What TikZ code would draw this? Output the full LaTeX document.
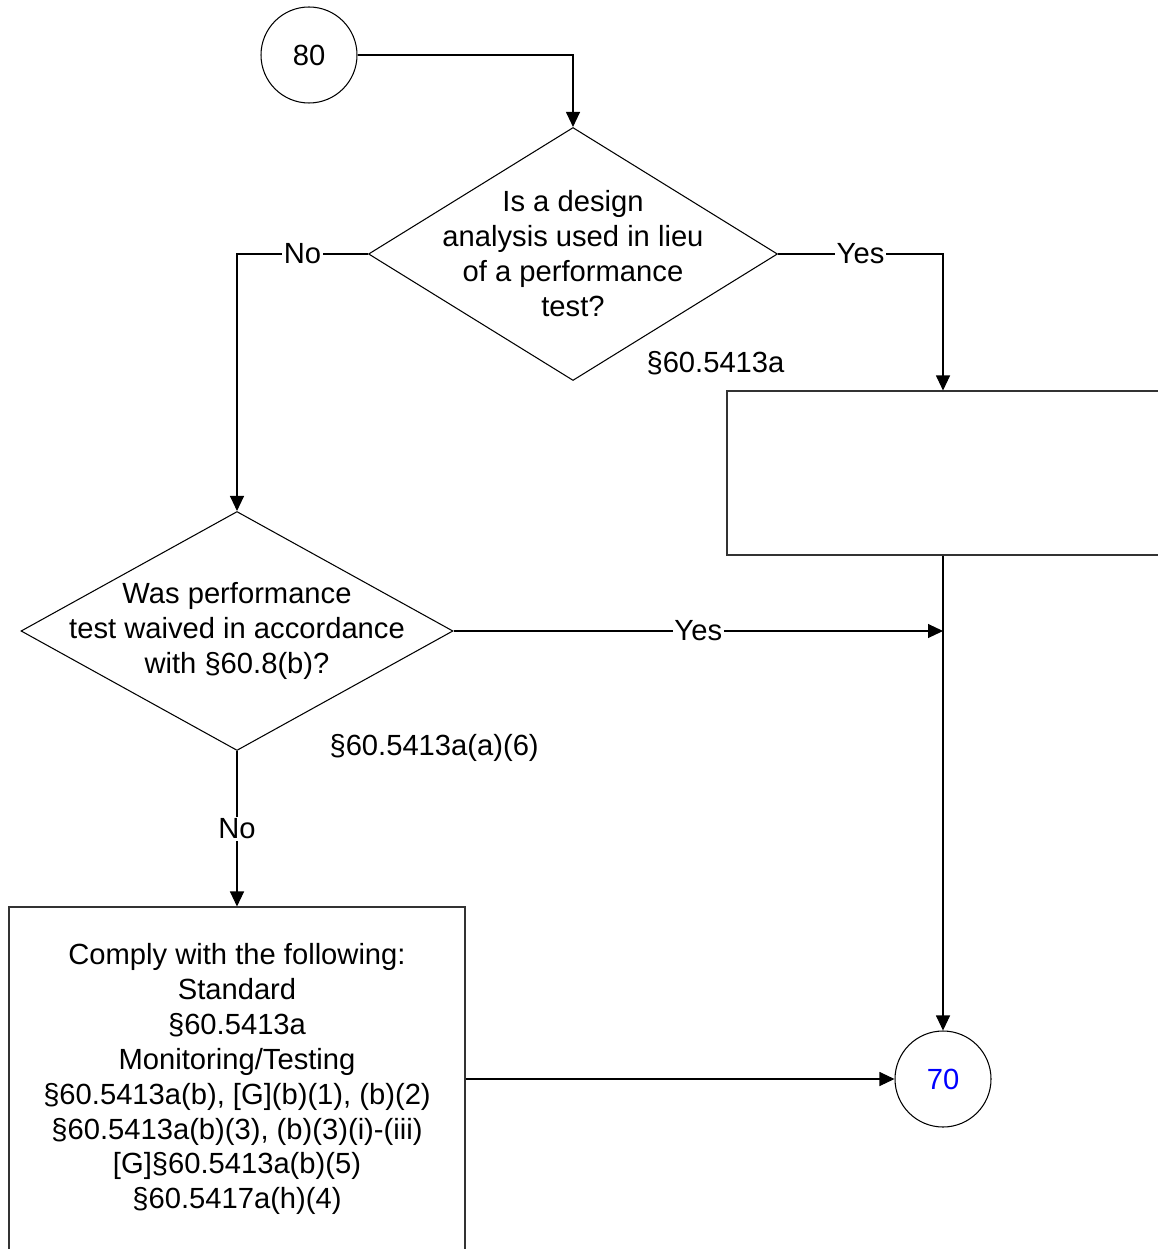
\documentclass[tikz,border=0pt]{standalone}
\usepackage{fontspec}
\setmainfont{Liberation Sans}
\usetikzlibrary{shapes.geometric, arrows.meta, positioning, calc}

\begin{document}
\begin{tikzpicture}[
          font=\fontsize{16.6}{19.9}\selectfont,
          line width=0.6pt,
          decnode/.style={diamond, draw=black, fill=white, inner sep=0pt},
          dectext/.style={align=center, inner sep=0pt},
          procnode/.style={rectangle, draw=black!80, fill=white, inner sep=0pt, align=center},
          connode/.style={circle, draw=black, fill=white, inner sep=0pt, minimum size=1.92cm},
          arr/.style={-{Triangle[length=0.3cm, width=0.28cm]}},
          lbl/.style={fill=white, inner sep=1pt}
        ]
        \useasboundingbox (0, 0) rectangle (23.14, -24.98);

        % ----------------------------------------------------
        % CONNECTORS (80 / 70)
        % ----------------------------------------------------
        \node (c80) at (6.18, -1.10) [connode] {80};
        \node (c70) at (18.86, -21.58) [connode, text=blue] {70};

        % ----------------------------------------------------
        % DECISIONS
        % ----------------------------------------------------
        \node (design) at (11.46, -5.08) [decnode, aspect=1.617, minimum width=8.18cm, minimum height=5.06cm] {};
        \node (designtxt) at (design.center) [dectext] {Is a design\\analysis used in lieu\\of a performance\\test?};
        \node (designref) at (12.92, -7.26) [anchor=west, inner sep=0pt] {§60.5413a};

        \node (waived) at (4.74, -12.62) [decnode, aspect=1.808, minimum width=8.64cm, minimum height=4.78cm] {};
        \node (waivedtxt) at (waived.center) [dectext] {Was performance\\test waived in accordance\\with §60.8(b)?};
        \node (waivedref) at (6.58, -14.96) [anchor=west, inner sep=0pt] {§60.5413a(a)(6)};

        % ----------------------------------------------------
        % PROCESS BOXES
        % ----------------------------------------------------
        \node (analysis) at (18.86, -9.46) [procnode, minimum width=8.64cm, minimum height=3.28cm] {};
        \node (comply) at (4.74, -21.58) [procnode, minimum width=9.12cm, minimum height=6.88cm] {Comply with the following:\\Standard\\§60.5413a\\Monitoring/Testing\\§60.5413a(b), {[G]}(b)(1), (b)(2)\\§60.5413a(b)(3), (b)(3)(i)-(iii)\\{[G]}§60.5413a(b)(5)\\§60.5417a(h)(4)};

        % ----------------------------------------------------
        % ARROWS
        % ----------------------------------------------------
        \draw[arr] (c80) -| (design);
        \draw[arr] (design.west) -| node[lbl, pos=0.25]{No} (waived.north);
        \draw[arr] (design.east) -| node[lbl, pos=0.25]{Yes} (analysis.north);
        \draw[arr] (analysis) -- (c70);
        \draw[arr] (waived.east) -- node[lbl]{Yes} (waived.east -| c70);
        \draw[arr] (waived.south) -- node[lbl]{No} (comply.north);
        \draw[arr] (comply) -- (c70);
      \end{tikzpicture}
\end{document}
